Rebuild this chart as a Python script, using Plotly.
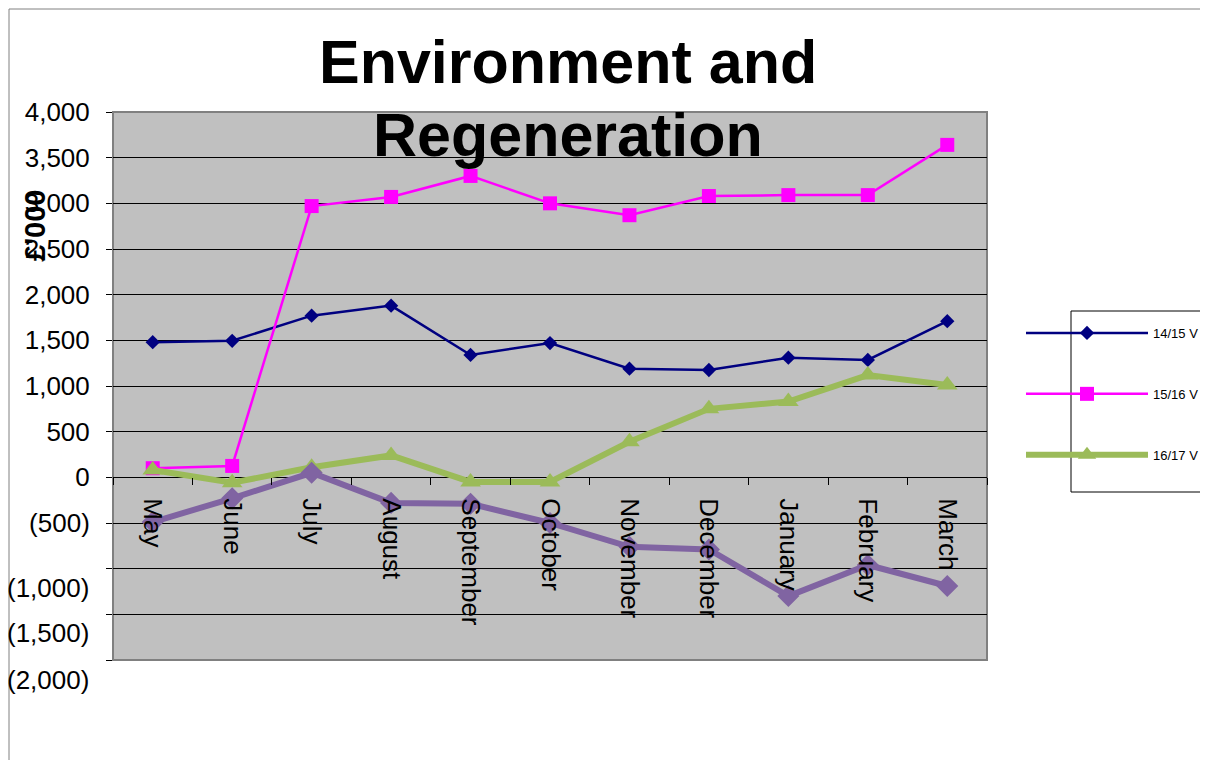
import plotly.graph_objects as go

months = ["May", "June", "July", "August", "September", "October",
          "November", "December", "January", "February", "March"]
v1415 = [1480, 1495, 1770, 1880, 1340, 1470, 1190, 1175, 1310, 1285, 1710]
v1516 = [100, 125, 2970, 3070, 3300, 3000, 2870, 3080, 3090, 3090, 3640]
v1617 = [80, -60, 110, 240, -50, -50, 390, 750, 830, 1120, 1010]
v1718 = [-490, -230, 50, -280, -290, -500, -760, -790, -1300, -960, -1190]

series_names = ["14/15 V", "15/16 V", "16/17 V", ""]
ytick_vals = [4000, 3500, 3000, 2500, 2000, 1500, 1000, 500, 0, -500, -1000, -1500, -2000]
ytick_text = ["4,000", "3,500", "3,000", "2,500", "2,000", "1,500", "1,000", "500", "0",
              "(500)", "", "", ""]
shifted_labels = ["(1,000)", "(1,500)", "(2,000)"]

FONT = "Liberation Sans, Arial, sans-serif"
W, H = 1208, 760
OFF = 8  # page body margin
# target plot-area edges in screen pixels
L, R, T, B = 113, 987, 112, 660


def px(x):
    return (x - L) / (R - L)


def py(y):
    return (B - y) / (B - T)


fig = go.Figure()
fig.add_trace(go.Scatter(x=months, y=v1415, name=series_names[0], mode="lines+markers",
                         line=dict(color="#000080", width=2.5),
                         marker=dict(symbol="diamond", size=11, color="#000080"),
                         legendgroup="a"))
fig.add_trace(go.Scatter(x=months, y=v1516, name=series_names[1], mode="lines+markers",
                         line=dict(color="#FF00FF", width=2.5),
                         marker=dict(symbol="square", size=14, color="#FF00FF"),
                         legendgroup="b"))
fig.add_trace(go.Scatter(x=months, y=v1617, name=series_names[2], mode="lines+markers",
                         line=dict(color="#9BBB59", width=6),
                         marker=dict(symbol="triangle-up", size=18, color="#9BBB59"),
                         legendgroup="c"))
fig.add_trace(go.Scatter(x=months, y=v1718, name=series_names[3], mode="lines+markers",
                         line=dict(color="#8064A2", width=6),
                         marker=dict(symbol="diamond", size=17, color="#8064A2"),
                         showlegend=False))

annotations = [
    dict(text="<b>Environment and</b>", x=px(568), y=py(62), xref="paper", yref="paper",
         xanchor="center", yanchor="middle", showarrow=False,
         font=dict(family=FONT, size=61, color="black")),
    dict(text="<b>Regeneration</b>", x=px(568), y=py(135), xref="paper", yref="paper",
         xanchor="center", yanchor="middle", showarrow=False,
         font=dict(family=FONT, size=61, color="black")),
    dict(text="<b>£'000</b>", x=px(35), y=py(226), xref="paper", yref="paper",
         xanchor="center", yanchor="middle", showarrow=False, textangle=-90,
         font=dict(family=FONT, size=29, color="black")),
]
for lab, ypix in zip(shifted_labels, [588, 633, 680]):
    annotations.append(dict(text=lab, x=px(91), y=py(ypix), xref="paper", yref="paper",
                            xanchor="right", yanchor="middle", showarrow=False,
                            font=dict(family=FONT, size=26, color="black")))

shapes = [
    # outer chart border
    dict(type="rect", xref="paper", yref="paper", x0=px(9), x1=px(1300), y0=py(900), y1=py(9),
         line=dict(color="#808080", width=1), layer="below"),
    # plot area border
    dict(type="rect", xref="paper", yref="paper", x0=0, x1=1, y0=0, y1=1,
         line=dict(color="#808080", width=2), layer="below"),
    # legend box
    dict(type="rect", xref="paper", yref="paper", x0=px(1071), x1=px(1300), y0=py(492), y1=py(311),
         line=dict(color="black", width=1), layer="below"),
]

fig.update_layout(
    width=W, height=H,
    margin=dict(l=L - OFF, r=W - R + OFF, t=T - OFF, b=H - B + OFF, autoexpand=False),
    paper_bgcolor="white",
    plot_bgcolor="#C0C0C0",
    font=dict(family=FONT, color="black"),
    showlegend=True,
    legend=dict(x=px(1021), y=py(318), xanchor="left", yanchor="top",
                bgcolor="rgba(0,0,0,0)", borderwidth=0,
                font=dict(family=FONT, size=13, color="black"),
                itemwidth=122, traceorder="grouped", tracegroupgap=41),
    annotations=annotations,
    shapes=shapes,
)
fig.update_xaxes(type="category", categoryorder="array", categoryarray=months,
                 range=[-0.5, 10.5], anchor="free", position=1 / 3,
                 showgrid=False, showline=False, zeroline=False,
                 ticks="outside", ticklen=7, tickcolor="black", tickwidth=1,
                 tickson="boundaries", tickangle=90, ticklabelstandoff=20,
                 tickfont=dict(family=FONT, size=26, color="black"))
fig.update_yaxes(range=[-2000, 4000], tickmode="array", tickvals=ytick_vals, ticktext=ytick_text,
                 showgrid=True, gridcolor="black", gridwidth=1, zeroline=False, showline=False,
                 ticks="outside", ticklen=6, tickcolor="black", ticklabelstandoff=11,
                 tickfont=dict(family=FONT, size=26, color="black"))

fig.write_html("out.html")
